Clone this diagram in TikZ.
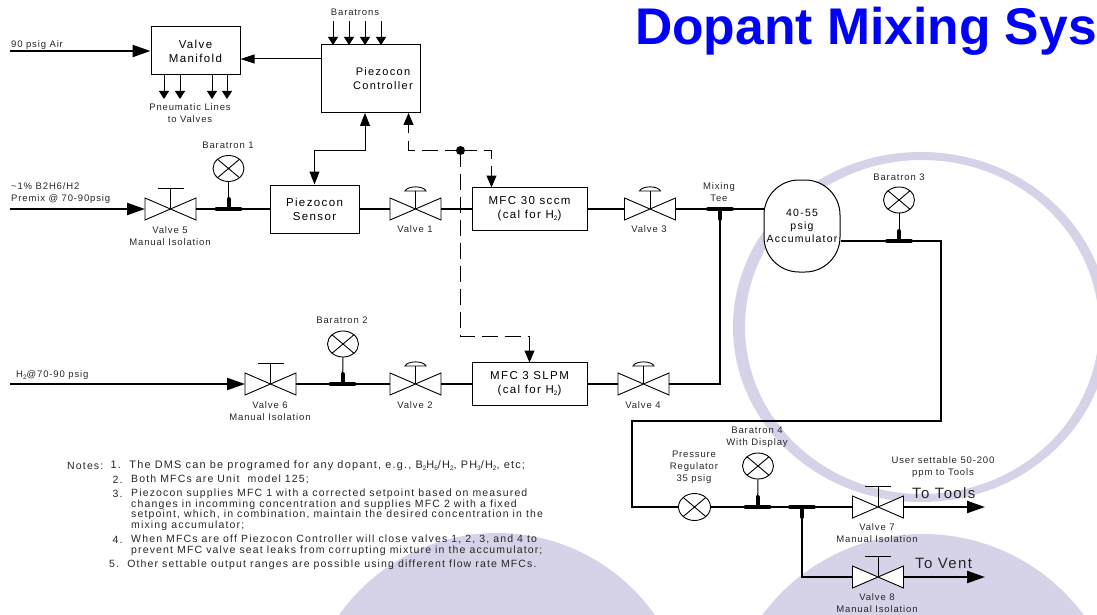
\documentclass[tikz,border=0pt]{standalone}
\usepackage{fontspec}
\setmainfont[LetterSpace=9]{Liberation Sans}
\newfontfamily\titlefont[LetterSpace=0]{Liberation Sans}
\newfontfamily\boxfont[LetterSpace=12]{Liberation Sans}
\newfontfamily\notefont[LetterSpace=11]{Liberation Sans}
\usetikzlibrary{arrows.meta,shapes.geometric,calc,positioning}
\definecolor{ringcol}{HTML}{D6D3E8}
\definecolor{titlecol}{HTML}{0000FF}
\newcommand{\low}[1]{\raisebox{-1.6pt}{\fontsize{6.5}{6.5}\selectfont #1}}
\tikzset{
  valvebody/.pic={
    \draw[line width=0.9pt,fill=white,line join=miter] (-25.5,-11) -- (25.5,11) -- (25.5,-11) -- (-25.5,11) -- cycle;
    \coordinate (-w) at (-25.5,0);
    \coordinate (-e) at (25.5,0);
  },
  handvalve/.pic={
    \draw[line width=0.9pt] (0,0) -- (0,-21) (-13,-21) -- (13,-21);
    \pic (-b) at (0,0) {valvebody};
    \coordinate (-w) at (-25.5,0);
    \coordinate (-e) at (25.5,0);
  },
  airvalve/.pic={
    \draw[line width=0.9pt] (0,0) -- (0,-18);
    \draw[line width=0.9pt] (-10.5,-18) .. controls (-8,-23.5) and (8,-23.5) .. (10.5,-18) -- cycle;
    \pic (-b) at (0,0) {valvebody};
    \coordinate (-w) at (-25.5,0);
    \coordinate (-e) at (25.5,0);
  },
  teeup/.pic={
    \draw[line width=4pt,line cap=round] (-12,0) -- (12,0);
    \draw[line width=4pt,line cap=round] (0,0) -- (0,-10);
    \coordinate (-top) at (0,-10);
  },
  teedown/.pic={
    \draw[line width=4pt,line cap=round] (-12,0) -- (12,0);
    \draw[line width=4pt,line cap=round] (0,0) -- (0,10);
    \coordinate (-bot) at (0,10);
  }
}
\begin{document}
\begin{tikzpicture}[x=1pt,y=-1pt]
\tikzstyle{blob}=[fill=ringcol]
\tikzstyle{box}=[rectangle,draw=black,line width=1pt,fill=white,align=center,inner sep=0pt,font=\fontsize{11.5}{14}\boxfont]
\tikzstyle{boxtext}=[align=center,inner sep=0pt,font=\fontsize{11}{14}\boxfont]
\tikzstyle{gauge}=[ellipse,draw=black,line width=0.9pt,fill=white,minimum width=31pt,minimum height=26pt,inner sep=0pt,
  path picture={\draw[line width=0.9pt] (path picture bounding box.north west) -- (path picture bounding box.south east)
    (path picture bounding box.south west) -- (path picture bounding box.north east);}]
\tikzstyle{tag}=[align=center,inner sep=0pt,text=black!85,font=\fontsize{9.5}{12}\selectfont]
\tikzstyle{note}=[anchor=west,inner sep=0pt,text=black!85,font=\fontsize{10.5}{12}\notefont]
\tikzstyle{big}=[anchor=west,inner sep=0pt,text=black!85,font=\fontsize{15}{15}\selectfont]
\tikzstyle{pipe}=[line width=1.9pt]
\tikzstyle{wire}=[line width=1pt]
\tikzstyle{feed}=[line width=2.2pt,-{Triangle[length=18pt,width=12pt]}]
\tikzstyle{small}=[line width=1pt,-{Triangle[length=8pt,width=10pt]}]
\tikzstyle{signal}=[line width=1pt,-{Triangle[length=14pt,width=9pt]}]
\tikzstyle{setpoint}=[line width=1pt,dash pattern=on 16pt off 7pt,-{Triangle[length=12pt,width=10pt]}]

\useasboundingbox (0,0) rectangle (1097,615);
\fill[blob,even odd rule] (921,327) ellipse [x radius=188,y radius=175] (922,327) ellipse [x radius=177,y radius=167];
\fill[blob] (497,726) circle (193);
\fill[blob] (923,734) circle (200);

\node[anchor=base west,inner sep=0pt,text=titlecol,font=\fontsize{51.6}{52}\titlefont\bfseries] (title) at (635,45) {Dopant Mixing Sys};

\node[box,minimum width=89pt,minimum height=48pt] (manifold) at (195.5,51) {Valve\\Manifold};
\node[box,minimum width=99pt,minimum height=68pt] (controller) at (370.5,79) {};
\node[boxtext] (controllerlbl) at (383,79) {Piezocon\\Controller};
\node[box,minimum width=89pt,minimum height=48pt] (sensor) at (314.5,209) {Piezocon\\Sensor};
\node[box,minimum width=115pt,minimum height=43pt] (mfc1) at (529.5,209) {MFC 30 sccm\\(cal for H\low{2})};
\node[box,minimum width=115pt,minimum height=43pt] (mfc2) at (529.5,384) {MFC 3 SLPM\\(cal for H\low{2})};
\node[draw=black,line width=1pt,fill=white,rounded corners=35pt,minimum width=76pt,minimum height=92pt,align=center,inner sep=0pt,font=\fontsize{10.5}{13}\boxfont] (accum) at (802,226) {40-55\\psig\\Accumulator};

\coordinate (airin) at (10,51);
\coordinate (premixin) at (10,209);
\coordinate (h2in) at (10,384);
\coordinate (turn1) at (941,241);
\coordinate (turn2) at (941,421);
\coordinate (turn3) at (632,421);
\coordinate (turn4) at (632,507);
\coordinate (turn5) at (802,577);
\coordinate (turn6) at (720,384);
\coordinate (tools) at (985,507);
\coordinate (vent) at (985,577);
\coordinate (dot) at (460.5,150.5);

\pic (v5) at (170.5,209) {handvalve};
\pic (v1) at (415.5,209) {airvalve};
\pic (v3) at (650,209) {airvalve};
\pic (v6) at (270.5,384) {handvalve};
\pic (v2) at (415.5,384) {airvalve};
\pic (v4) at (643.5,384) {airvalve};
\pic (v7) at (878,507) {handvalve};
\pic (v8) at (878,577) {handvalve};

\node[gauge] (b1) at (228.5,168.5) {};
\node[gauge] (b2) at (343,344) {};
\node[gauge] (b3) at (899,200) {};
\node[gauge] (b4) at (758,466) {};
\node[gauge,minimum width=32pt,minimum height=27pt] (reg) at (694.5,507) {};

\coordinate (t1) at (228.5,209);
\coordinate (t2) at (342.5,384);
\coordinate (t3) at (899,241);
\coordinate (t4) at (757.5,507);
\coordinate (t5) at (802,507);
\coordinate (t6) at (720,209);

\draw[feed] (airin) -- (manifold.west |- airin);
\draw[feed] (premixin) -- (v5-w);
\draw[feed] (h2in) -- (v6-w);
\draw[pipe] (v5-e) -- (sensor.west);
\draw[pipe] (sensor.east) -- (v1-w);
\draw[pipe] (v1-e) -- (mfc1.west);
\draw[pipe] (mfc1.east) -- (v3-w);
\draw[pipe] (v3-e) -- (accum.west |- v3-e);
\draw[pipe] (v6-e) -- (v2-w);
\draw[pipe] (v2-e) -- (mfc2.west);
\draw[pipe] (mfc2.east) -- (v4-w);
\draw[pipe] (v4-e) -- (turn6) -- (t6);
\draw[pipe] (accum.east |- turn1) -- (turn1) -- (turn2) -- (turn3) -- (turn4) -- (reg.west);
\draw[pipe] (reg.east) -- (v7-w);
\draw[pipe] (t5) -- (turn5) -- (v8-w);
\draw[feed] (v7-e) -- (tools);
\draw[feed] (v8-e) -- (vent);

\pic at (t1) {teeup};
\pic at (t2) {teeup};
\pic at (t3) {teeup};
\pic at (t4) {teeup};
\pic at (t5) {teedown};
\pic at (t6) {teedown};
\draw[wire] (b1.south) -- (t1);
\draw[wire] (b2.south) -- (t2);
\draw[wire] (b3.south) -- (t3);
\draw[wire] (b4.south) -- (t4);

\draw[signal] (controller.west |- 0,59) -- (manifold.east |- 0,59);
\foreach \x in {333,349,365,381} \draw[small] (\x,21) -- (\x,45);
\foreach \x in {164,180,212,227} \draw[small] (\x,75) -- (\x,99);
\draw[line width=1pt,{Triangle[length=13pt,width=10pt]}-{Triangle[length=13pt,width=10pt]}] (sensor.north) -- (sensor.north |- 0,150.5) -- (365,150.5) -- (365,113);

\fill (dot) circle (4.5);
\draw[setpoint] (dot) -- (408.5,150.5) -- (408.5,113);
\draw[setpoint] (dot) -- (491.5,150.5) -- (491.5,187.5);
\draw[setpoint] (dot) -- (460.5,336.5) -- (529.5,336.5) -- (529.5,362.5);

\node[tag,anchor=west] (airlbl) at (11,45.5) {90 psig Air};
\node[tag] (baratrons) at (355,12) {Baratrons};
\node[tag] (lines) at (190,113) {Pneumatic Lines\\to Valves};
\node[tag] (b1lbl) at (228,145) {Baratron 1};
\node[tag,anchor=west,align=left] (premixlbl) at (11,193) {\textasciitilde1\% B2H6/H2\\Premix @ 70-90psig};
\node[tag] (v5lbl) at (170,236) {Valve 5\\Manual Isolation};
\node[tag] (v1lbl) at (415,229.5) {Valve 1};
\node[tag] (v3lbl) at (649,229) {Valve 3};
\node[tag] (teelbl) at (719,192.5) {Mixing\\Tee};
\node[tag] (b3lbl) at (899,177) {Baratron 3};
\node[tag] (b2lbl) at (342,320) {Baratron 2};
\node[tag,anchor=west] (h2lbl) at (16,375) {H\low{2}@70-90 psig};
\node[tag] (v6lbl) at (270,411.5) {Valve 6\\Manual Isolation};
\node[tag] (v2lbl) at (415,405) {Valve 2};
\node[tag] (v4lbl) at (643,405) {Valve 4};
\node[tag] (reglbl) at (694,467.5) {Pressure\\Regulator\\35 psig};
\node[tag] (b4lbl) at (757,437.5) {Baratron 4\\With Display};
\node[tag] (userlbl) at (943,467.5) {User settable 50-200\\ppm to Tools};
\node[big] (toolslbl) at (912,493) {To Tools};
\node[big] (ventlbl) at (915,563) {To Vent};
\node[tag] (v7lbl) at (877,533.5) {Valve 7\\Manual Isolation};
\node[tag] (v8lbl) at (877,603.5) {Valve 8\\Manual Isolation};

\node[note] (n0) at (67,466) {Notes:};
\node[note,font=\fontsize{10.9}{12}\notefont] (n1) at (110.5,466) {1.\ \ The DMS can be programed for any dopant, e.g., B\low{2}H\low{6}/H\low{2}, PH\low{3}/H\low{2}, etc;};
\node[note] (n2) at (112.5,479.5) {2.};
\node[note] (n2a) at (131,479.5) {Both MFCs are Unit\ \ model 125;};
\node[note] (n3) at (112.5,494) {3.};
\node[note] (n3a) at (131,494) {Piezocon supplies MFC 1 with a corrected setpoint based on measured};
\node[note] (n3b) at (131,504.5) {changes in incomming concentration and supplies MFC 2 with a fixed};
\node[note] (n3c) at (131,514.5) {setpoint, which, in combination, maintain the desired concentration in the};
\node[note] (n3d) at (131,525.5) {mixing accumulator;};
\node[note] (n4) at (112.5,539.5) {4.};
\node[note] (n4a) at (131,539.5) {When MFCs are off Piezocon Controller will close valves 1, 2, 3, and 4 to};
\node[note] (n4b) at (131,550.5) {prevent MFC valve seat leaks from corrupting mixture in the accumulator;};
\node[note] (n5) at (109,564.5) {5.\ \ Other settable output ranges are possible using different flow rate MFCs.};
\end{tikzpicture}
\end{document}
